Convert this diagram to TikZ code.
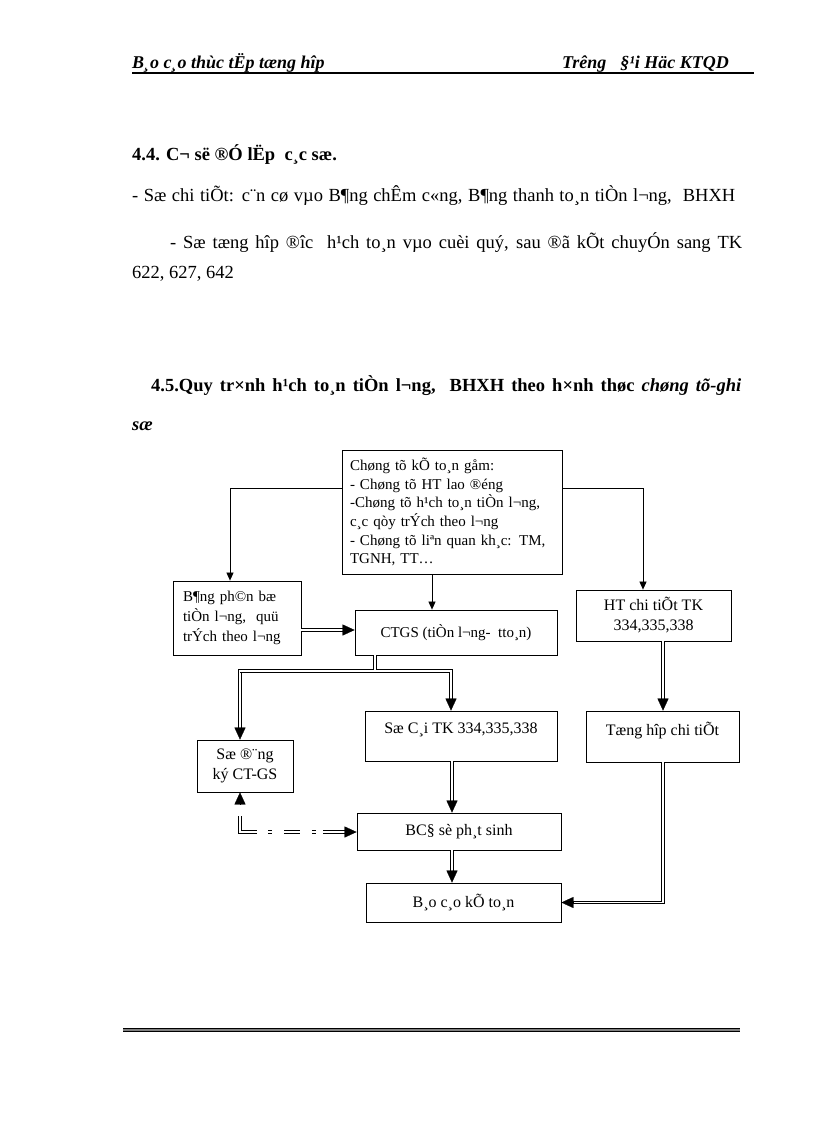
\documentclass[tikz,border=0pt]{standalone}
\usepackage{fontspec}
\setmainfont{Liberation Serif}
\usetikzlibrary{arrows.meta,calc}
\begin{document}
\begin{tikzpicture}[x=1pt,y=-1pt,
  txt/.style={inner sep=0pt, anchor=base west, font=\fontsize{18.5}{22}\selectfont},
  box/.style={draw, line width=0.8pt, inner sep=0pt, font=\fontsize{16}{20}\selectfont},
  sarr/.style={-{Triangle[length=8pt,width=7pt]}, line width=0.7pt},
  dbl/.style={double, double distance=1.8pt, line width=0.9pt},
  dtip/.style={-{Triangle[length=12pt,width=11pt]}, line width=0.2pt}]
\useasboundingbox[fill=white] (0,0) rectangle (816,1123);

% header
\node[txt, font=\bfseries\itshape\fontsize{18}{20}\selectfont] (hl) at (132,69) {B¸o c¸o thùc tËp tæng hîp};
\node[txt, anchor=base east, font=\bfseries\itshape\fontsize{18}{20}\selectfont] (hr) at (729,69) {Trêng\hspace{14pt}§¹i Häc KTQD};
\draw[line width=2pt] (132,73) -- (754,73);

% body text
\node[txt, font=\bfseries\fontsize{18.5}{22}\selectfont] (h44) at (132,161) {4.4. C¬ së ®Ó lËp\ \ c¸c sæ.};
\node[txt] (p1) at (132,202) {\makebox[603pt][s]{- Sæ chi tiÕt: c¨n cø vµo B¶ng chÊm c«ng, B¶ng thanh to¸n tiÒn l¬ng,\ \ BHXH}};
\node[txt] (p2) at (170,248) {\makebox[572pt][s]{- Sæ tæng hîp ®îc\ \ h¹ch to¸n vµo cuèi quý, sau ®ã kÕt chuyÓn sang TK}};
\node[txt] (p3) at (132,278) {622, 627, 642};
\node[txt, font=\bfseries\fontsize{18.5}{22}\selectfont] (h45) at (151,391) {\makebox[590pt][s]{4.5.Quy tr×nh h¹ch to¸n tiÒn l¬ng,\ \ BHXH theo h×nh thøc \textit{chøng tõ-ghi}}};
\node[txt, font=\bfseries\itshape\fontsize{18.5}{22}\selectfont] (h45b) at (132,430) {sæ};

% boxes
\node[box, minimum width=220pt, minimum height=124pt, inner xsep=8pt, text width=204pt, align=left, font=\fontsize{15}{18.6}\selectfont] (ct) at (452,512)
 {Chøng tõ kÕ to¸n gåm:\\
  - Chøng tõ HT lao ®éng\\
  -Chøng tõ h¹ch to¸n tiÒn l¬ng,\\
  c¸c qòy trÝch theo l¬ng\\
  - Chøng tõ liªn quan kh¸c: TM,\\
  TGNH, TT…};
\node[box, minimum width=128pt, minimum height=74pt, inner xsep=10pt, text width=108pt, align=left, font=\fontsize{15}{20}\selectfont] (bp) at (237,618)
 {B¶ng ph©n bæ\\ tiÒn l¬ng,\ \ quü\\ trÝch theo l¬ng};
\node[box, minimum width=202pt, minimum height=45pt, font=\fontsize{15}{20}\selectfont] (ctgs) at (456,632.5) {CTGS (tiÒn l¬ng-\ \ tto¸n)};
\node[box, minimum width=155pt, minimum height=51pt, align=center] (ht) at (653.5,615.5) {HT chi tiÕt TK\\ 334,335,338};
\node[box, minimum width=192pt, minimum height=50pt, align=center] (sc) at (461,736) {Sæ C¸i TK 334,335,338\\[-10pt] \strut};
\node[box, minimum width=153pt, minimum height=51pt, align=center] (th) at (662.5,736.5) {Tæng hîp chi tiÕt\\[-10pt] \strut};
\node[box, minimum width=96pt, minimum height=52pt, align=center] (sd) at (245,766) {Sæ ®¨ng\\ ký CT-GS};
\node[box, minimum width=204pt, minimum height=37pt] (bc) at (459,831.5) {BC§ sè ph¸t sinh};
\node[box, minimum width=195pt, minimum height=39pt] (bk) at (463.5,902.5) {B¸o c¸o kÕ to¸n};

% helper coordinates
\coordinate (l1) at (230,488);
\coordinate (r1) at (643,488);
\coordinate (m1) at (432,600);
\coordinate (d1) at (330,630);
\coordinate (t0) at (375,670);
\coordinate (tl) at (240,671);
\coordinate (tr) at (451,671);
\coordinate (hx) at (663,700);
\coordinate (cx) at (452,800);
\coordinate (dc) at (240,832);

% single connectors
\draw[sarr] (ct.west |- l1) -- (l1) -- (l1 |- bp.north);
\draw[sarr] (ct.east |- r1) -- (r1) -- (r1 |- ht.north);
\draw[sarr] (m1 |- ct.south) -- (m1 |- ctgs.north);

% double connectors
\draw[dbl, shorten >=10pt] (bp.east |- d1) -- (ctgs.west |- d1);
\draw[dtip] ($(ctgs.west |- d1)+(-12,0)$) -- (ctgs.west |- d1);

\draw[dbl, shorten >=10pt] (tr) -- (tl) -- (tl |- sd.north);
\draw[dtip] ($(tl |- sd.north)+(0,-12)$) -- (tl |- sd.north);
\draw[dbl, shorten >=10pt] (tl) -- (tr) -- (tr |- sc.north);
\draw[dtip] ($(tr |- sc.north)+(0,-12)$) -- (tr |- sc.north);
\draw[dbl] (t0 |- ctgs.south) -- (t0);

\draw[dbl, shorten >=10pt] (hx |- ht.south) -- (hx |- th.north);
\draw[dtip] ($(hx |- th.north)+(0,-12)$) -- (hx |- th.north);

\draw[dbl, shorten >=10pt] (cx |- sc.south) -- (cx |- bc.north);
\draw[dtip] ($(cx |- bc.north)+(0,-12)$) -- (cx |- bc.north);

\draw[dbl, shorten >=10pt] (cx |- bc.south) -- (cx |- bk.north);
\draw[dtip] ($(cx |- bk.north)+(0,-12)$) -- (cx |- bk.north);

\draw[dbl, shorten >=10pt] (hx |- th.south) -- (hx |- bk.east) -- (bk.east);
\draw[dtip] ($(bk.east)+(12,0)$) -- (bk.east);

% dashed reconciliation connector
\draw[dtip] ($(dc |- sd.south)+(0,12)$) -- (dc |- sd.south);
\draw[dbl, dash pattern=on 33pt off 11pt on 4pt off 12pt on 16pt off 12pt on 4pt off 7pt on 40pt, shorten >=10pt]
  ($(dc)+(0,-16)$) -- (dc) -- (bc.west |- dc);
\draw[dtip] ($(bc.west |- dc)+(-12,0)$) -- (bc.west |- dc);

% footer rule
\draw[line width=0.9pt, double=gray, double distance=1.6pt] (123,1030) -- (740,1030);
\end{tikzpicture}
\end{document}
